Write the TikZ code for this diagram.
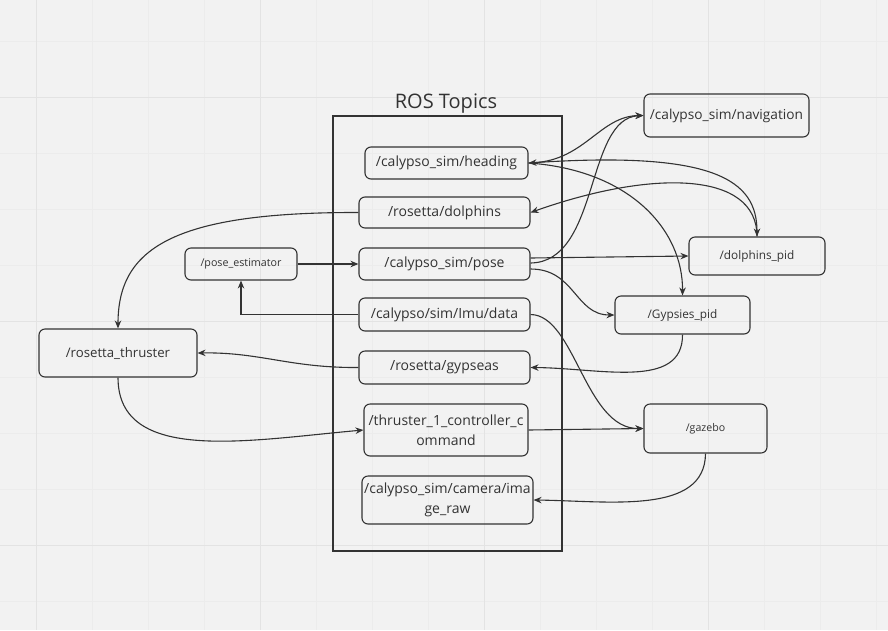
\documentclass[tikz,border=0pt]{standalone}
\usepackage{fontspec}
\setmainfont{Open Sans}
\usetikzlibrary{arrows.meta}
\definecolor{bg}{HTML}{F2F2F2}
\definecolor{gridc}{HTML}{ECECEC}
\definecolor{gridd}{HTML}{E3E3E3}
\definecolor{ink}{HTML}{333333}
\begin{document}
\begin{tikzpicture}[x=1pt,y=-1pt,
  box/.style={draw=ink, line width=1.1pt, rounded corners=6pt, inner sep=1pt, text=ink, align=center},
  big/.style={font=\fontsize{14}{20.5}\selectfont},
  conn/.style={draw=ink, line width=1.1pt, -{Stealth[length=8pt,width=6.5pt]}},
  bothconn/.style={draw=ink, line width=1.1pt, {Stealth[length=8pt,width=6.5pt]}-{Stealth[length=8pt,width=6.5pt]}}]
\useasboundingbox (0,0) rectangle (888,630);
\fill[bg] (0,0) rectangle (888,630);
% grid
\foreach \gx in {36,92,...,888} \draw[gridc, line width=0.6pt] (\gx,0) -- (\gx,630);
\foreach \gy in {41,97,...,630} \draw[gridc, line width=0.6pt] (0,\gy) -- (888,\gy);
\foreach \gx in {36,260,484,708} \draw[gridd, line width=0.8pt] (\gx,0) -- (\gx,630);
\foreach \gy in {97,321,545} \draw[gridd, line width=0.8pt] (0,\gy) -- (888,\gy);

% container
\node[draw=ink, line width=1.1pt, minimum width=229pt, minimum height=435pt, inner sep=0pt] (topics) at (447.5,333.5) {};
\node[text=ink, font=\fontsize{20}{24}\selectfont, anchor=south, inner sep=0pt] (title) at (446,113) {ROS Topics};

% topic nodes
\node[box,big,minimum width=163pt,minimum height=32pt] (heading) at (446.5,163) {/calypso\_sim/heading};
\node[box,big,minimum width=171pt,minimum height=31pt] (dolphins) at (444.5,212.5) {/rosetta/dolphins};
\node[box,big,minimum width=171pt,minimum height=32pt] (pose) at (444.5,264) {/calypso\_sim/pose};
\node[box,big,minimum width=171pt,minimum height=33pt] (imu) at (444.5,314.5) {/calypso/sim/Imu/data};
\node[box,big,minimum width=171pt,minimum height=33pt] (gypseas) at (444.5,367.5) {/rosetta/gypseas};
\node[box,big,minimum width=164pt,minimum height=52pt, inner sep=0pt] (cmd) at (446,430) {/thruster\_1\_controller\_c\\ommand};
\node[box,big,minimum width=171pt,minimum height=48pt, inner sep=0pt] (cam) at (447.5,500) {/calypso\_sim/camera/ima\\ge\_raw};

% outer nodes
\node[box,font=\fontsize{10.7}{13}\selectfont,minimum width=112pt,minimum height=32pt] (est) at (241,264) {/pose\_estimator};
\node[box,font=\fontsize{13.2}{16}\selectfont,minimum width=158pt,minimum height=48pt] (thr) at (118,353) {/rosetta\_thruster};
\node[box,font=\fontsize{13.7}{17}\selectfont,minimum width=165pt,minimum height=43pt] (nav) at (726.5,115.5) {/calypso\_sim/navigation};
\node[box,font=\fontsize{11.8}{14}\selectfont,minimum width=136pt,minimum height=38pt] (dpid) at (757,256) {/dolphins\_pid};
\node[box,font=\fontsize{11.8}{14}\selectfont,minimum width=135pt,minimum height=38pt] (gpid) at (682.5,315) {/Gypsies\_pid};
\node[box,font=\fontsize{10.6}{13}\selectfont,minimum width=123pt,minimum height=49pt] (gaz) at (705.5,428.5) {/gazebo};

% connectors
\draw[conn] (est.east) -- (pose.west);
\draw[conn] (imu.west) -| (est.south);
\draw[conn] (dolphins.west) .. controls (170,212) and (118,250) .. (thr.north);
\draw[conn] (gypseas.west) .. controls (290,368) and (260,352) .. (thr.east);
\draw[conn] (thr.south) .. controls (118,465) and (250,440) .. (cmd.west);
\draw[conn] (cmd.east) -- (gaz.west);
\draw[conn] (imu.east) .. controls (575,315) and (585,429) .. (gaz.west);
\draw[conn] (gaz.south) .. controls (705,515) and (610,501) .. (cam.east);
\draw[conn] (gpid.south) .. controls (683,390) and (600,368) .. (gypseas.east);
\draw[conn] ([yshift=6pt]pose.east) -- (dpid.west);
\draw[conn] ([yshift=-5pt]pose.east) .. controls (575,269) and (575,315) .. (gpid.west);
\draw[conn] ([yshift=1pt]pose.east) .. controls (600,262) and (585,118) .. (nav.west);
\draw[bothconn] (heading.east) .. controls (585,160) and (600,116) .. (nav.west);
\draw[conn] (heading.east) .. controls (715,150) and (757,180) .. (dpid.north);
\draw[conn] (heading.east) .. controls (630,170) and (683,230) .. (gpid.north);
\draw[conn] (dpid.north) .. controls (757,170) and (650,170) .. (dolphins.east);
\end{tikzpicture}
\end{document}
